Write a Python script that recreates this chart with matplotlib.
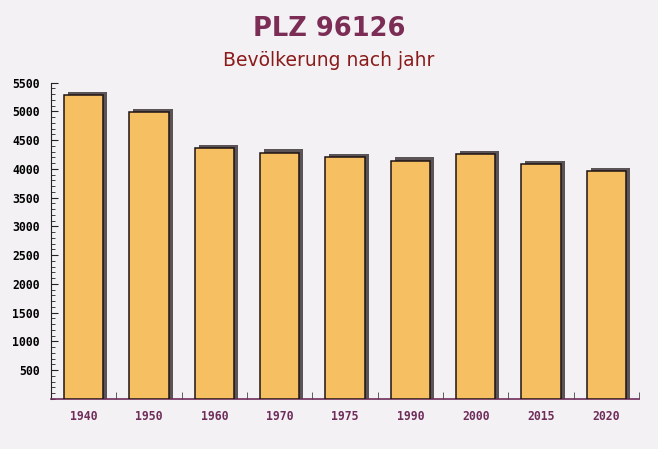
import numpy as np
import matplotlib
matplotlib.use("Agg")
import matplotlib.pyplot as plt
from matplotlib.transforms import ScaledTranslation
from matplotlib.ticker import MultipleLocator, FixedLocator

# Daten
jahre = ["1940", "1950", "1960", "1970", "1975", "1990", "2000", "2015", "2020"]
einwohner = [5280, 4980, 4355, 4280, 4200, 4140, 4250, 4078, 3960]

fig = plt.figure(figsize=(6.58, 4.49), dpi=100)
fig.patch.set_facecolor("#f3f1f3")
ax = fig.add_axes([51 / 658, 1 - 399 / 449, (639 - 51) / 658, (399 - 82.5) / 449])
ax.set_facecolor("none")

x = np.arange(len(jahre))
breite = 0.6

# Schatten (nach rechts oben versetzt)
schatten = ax.transData + ScaledTranslation(0.04, 0.035, fig.dpi_scale_trans)
ax.bar(x, np.array(einwohner) + 300, bottom=-300, width=breite,
       color="#5a5456", transform=schatten, zorder=2)
# Balken
ax.bar(x, einwohner, width=breite, color="#f6c062", edgecolor="#1e1414",
       linewidth=1.1, zorder=3)

ax.set_xlim(-0.5, len(jahre) - 0.5)
ax.set_ylim(0, 5500)

ax.set_xticks(x)
ax.set_xticklabels(jahre)
ax.xaxis.set_minor_locator(FixedLocator(np.arange(0.5, len(jahre), 1.0)))
ax.yaxis.set_major_locator(MultipleLocator(500))
ax.yaxis.set_minor_locator(MultipleLocator(100))
ax.set_yticks(np.arange(500, 5501, 500))

for lab in ax.get_yticklabels() + ax.get_xticklabels():
    lab.set_family("DejaVu Sans Mono")
    lab.set_fontweight("bold")
    lab.set_fontsize(8.3)
for lab in ax.get_xticklabels():
    lab.set_color("#6e2d5a")

ax.tick_params(axis="x", which="major", length=0, pad=8)
ax.tick_params(axis="x", which="minor", direction="in", length=5, color="#444444")
ax.tick_params(axis="y", which="major", direction="in", length=5, pad=8, color="#222222")
ax.tick_params(axis="y", which="minor", direction="in", length=3, color="#222222")

for s in ["top", "right"]:
    ax.spines[s].set_visible(False)
ax.spines["left"].set_color("#222222")
ax.spines["bottom"].set_color("#6e2d5a")
ax.spines["bottom"].set_linewidth(1.2)

fig.text(0.5, 1 - 29.5 / 449, "PLZ 96126", ha="center", va="center",
         fontsize=18.5, fontweight="bold", color="#7b2d55")
fig.text(0.5, 1 - 61 / 449, "Bevölkerung nach jahr", ha="center", va="center",
         fontsize=13.5, color="#8b1a1a")

fig.savefig("out.png", dpi=100, facecolor=fig.get_facecolor())
